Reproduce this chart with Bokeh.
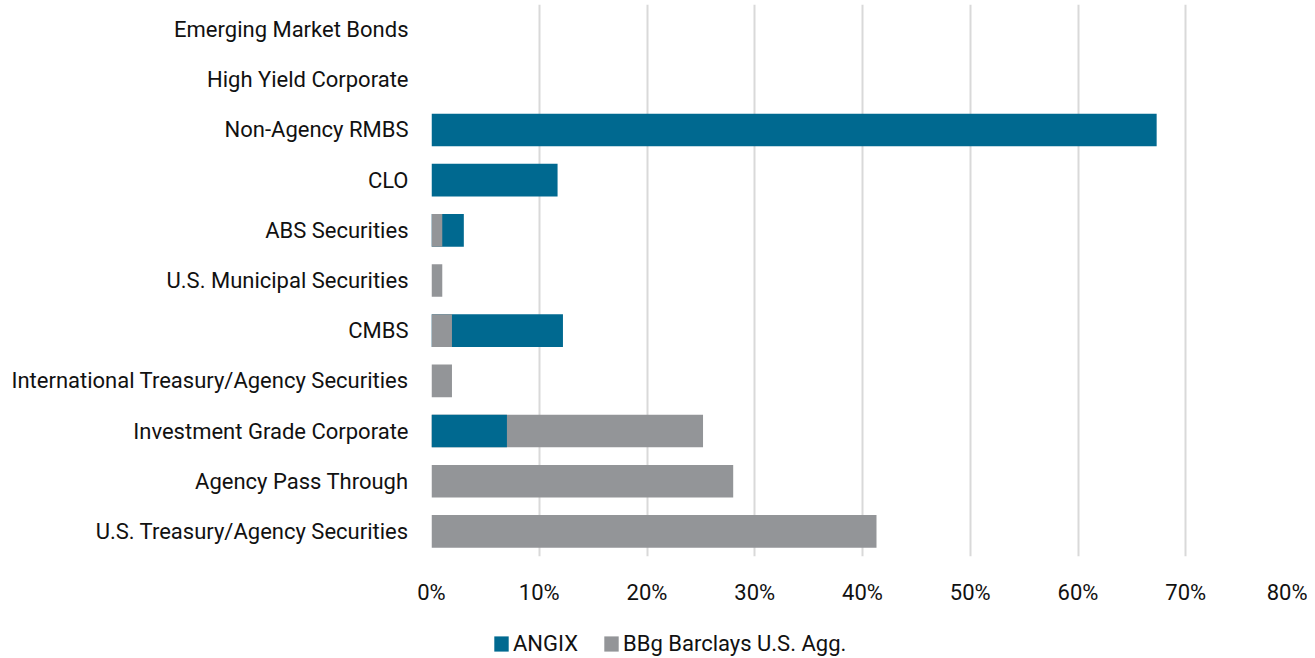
from bokeh.plotting import figure
from bokeh.layouts import column
from bokeh.models import Range1d, FixedTicker, Legend, LegendItem
from bokeh.embed import file_html
from bokeh.resources import INLINE

# Data (top to bottom as shown)
categories = [
    "Emerging Market Bonds",
    "High Yield Corporate",
    "Non-Agency RMBS",
    "CLO",
    "ABS Securities",
    "U.S. Municipal Securities",
    "CMBS",
    "International Treasury/Agency Securities",
    "Investment Grade Corporate",
    "Agency Pass Through",
    "U.S. Treasury/Agency Securities",
]
angix = [0.0, 0.0, 67.3, 11.7, 3.0, 0.0, 12.2, 0.0, 7.0, 0.0, 0.0]
bbg_agg = [0.0, 0.0, 0.0, 0.0, 1.0, 1.0, 1.9, 1.9, 25.2, 28.0, 41.3]
x_ticks = [0, 10, 20, 30, 40, 50, 60, 70, 80]
series_names = ["ANGIX", "BBg Barclays U.S. Agg."]

BLUE = "#006990"
GRAY = "#939598"
FONT = "Roboto"
FS = "22px"
TXT = "#111111"

n = len(categories)
ypos = [n - 1 - i for i in range(n)]  # top category highest

# Layering: larger bar behind, smaller in front
back_a = dict(y=[], right=[])
back_g = dict(y=[], right=[])
front_a = dict(y=[], right=[])
front_g = dict(y=[], right=[])
for y, a, g in zip(ypos, angix, bbg_agg):
    if a > g:
        back_a["y"].append(y); back_a["right"].append(a)
        front_g["y"].append(y); front_g["right"].append(g)
    else:
        back_g["y"].append(y); back_g["right"].append(g)
        front_a["y"].append(y); front_a["right"].append(a)

W = 1307
p = figure(
    width=W, height=620,
    x_range=Range1d(0, 80),
    y_range=Range1d(-0.5, 10.5),
    output_backend="svg", toolbar_location=None,
    min_border_left=431, min_border_right=14, min_border_top=4, min_border_bottom=64,
)
p.outline_line_color = None

H = 0.65
p.hbar(y=back_a["y"], right=back_a["right"], left=0, height=H, fill_color=BLUE, line_color=None)
p.hbar(y=back_g["y"], right=back_g["right"], left=0, height=H, fill_color=GRAY, line_color=None)
p.hbar(y=front_g["y"], right=front_g["right"], left=0, height=H, fill_color=GRAY, line_color=None)
p.hbar(y=front_a["y"], right=front_a["right"], left=0, height=H, fill_color=BLUE, line_color=None)

# x axis
p.xaxis.ticker = FixedTicker(ticks=x_ticks)
p.xaxis.major_label_overrides = {t: f"{t}%" for t in x_ticks}
p.xaxis.axis_line_color = None
p.xaxis.major_tick_line_color = None
p.xaxis.minor_tick_line_color = None
p.xaxis.major_label_standoff = 17
p.xaxis.major_label_text_font = FONT
p.xaxis.major_label_text_font_size = FS
p.xaxis.major_label_text_color = TXT

# y axis
p.yaxis.ticker = FixedTicker(ticks=ypos)
p.yaxis.major_label_overrides = {y: c for y, c in zip(ypos, categories)}
p.yaxis.axis_line_color = None
p.yaxis.major_tick_line_color = None
p.yaxis.minor_tick_line_color = None
p.yaxis.major_label_standoff = 17
p.yaxis.major_label_text_font = FONT
p.yaxis.major_label_text_font_size = FS
p.yaxis.major_label_text_color = TXT

p.xgrid.ticker = FixedTicker(ticks=x_ticks)
p.xgrid.grid_line_color = "#d9d9d9"
p.xgrid.grid_line_width = 2
p.ygrid.grid_line_color = None

# Legend strip (its frame is aligned with the main frame by the column layout)
lg = figure(
    width=W, height=36, x_range=Range1d(0, 1), y_range=Range1d(0, 1),
    output_backend="svg", toolbar_location=None,
    min_border_left=0, min_border_right=0, min_border_top=0, min_border_bottom=0,
)
lg.axis.visible = False
lg.grid.visible = False
lg.outline_line_color = None
# legend-only swatches, placed outside the visible range
la = lg.hbar(y=[-10], right=[1], left=0, height=1, fill_color=BLUE, line_color=None)
lb = lg.hbar(y=[-10], right=[1], left=0, height=1, fill_color=GRAY, line_color=None)
legend = Legend(
    items=[LegendItem(label=series_names[0], renderers=[la]),
           LegendItem(label=series_names[1], renderers=[lb])],
    orientation="horizontal",
    location=(61, 0),
    glyph_width=18, glyph_height=19,
    label_text_font=FONT, label_text_font_size=FS, label_text_color=TXT,
    label_standoff=3, spacing=24, padding=0, margin=0,
    border_line_color=None, background_fill_alpha=0,
)
lg.add_layout(legend, "center")

layout = column(p, lg, spacing=0)
open("out.html", "w").write(file_html(layout, INLINE))
